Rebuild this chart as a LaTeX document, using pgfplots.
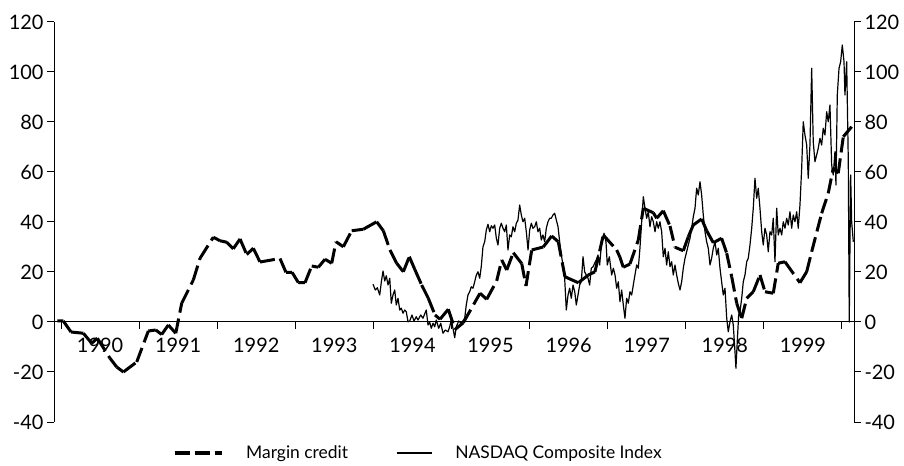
\documentclass[border=0pt]{standalone}
\usepackage{pgfplots}
\pgfplotsset{compat=1.18}
\usepackage{pgfplotstable}
\usepackage{fontspec}
\setmainfont{Lato}

\pgfplotstableread{
x y xn yn
1989.953 0.5 1990.029 0.4
1990.029 0.4 1990.128 -4
1990.128 -4 1990.286 -4.5
1990.286 -4.5 1990.393 -8.5
1990.393 -8.5 1990.465 -6.5
1990.465 -6.5 1990.627 -14.5
1990.627 -14.5 1990.713 -18
1990.713 -18 1990.798 -20
1990.798 -20 1990.969 -16
1990.969 -16 1991.118 -3.6
1991.118 -3.6 1991.213 -3.2
1991.213 -3.2 1991.289 -5
1991.289 -5 1991.374 -1.2
1991.374 -1.2 1991.469 -4.5
1991.469 -4.5 1991.545 7.5
1991.545 7.5 1991.694 16.8
1991.694 16.8 1991.780 25.5
1991.780 25.5 1991.950 33.9
1991.950 33.9 1992.036 32.5
1992.036 32.5 1992.122 31.9
1992.122 31.9 1992.206 29.3
1992.206 29.3 1992.292 33.2
1992.292 33.2 1992.378 27
1992.378 27 1992.462 29.5
1992.462 29.5 1992.548 24
1992.548 24 1992.804 25.4
1992.804 25.4 1992.881 19.8
1992.881 19.8 1992.958 19.9
1992.958 19.9 1993.038 15.8
1993.038 15.8 1993.124 15.7
1993.124 15.7 1993.210 22.4
1993.210 22.4 1993.295 21.9
1993.295 21.9 1993.380 25.1
1993.380 25.1 1993.466 23.5
1993.466 23.5 1993.521 32.1
1993.521 32.1 1993.615 30.1
1993.615 30.1 1993.722 36.5
1993.722 36.5 1993.871 37.1
1993.871 37.1 1994.042 40.1
1994.042 40.1 1994.127 36.5
1994.127 36.5 1994.212 28.8
1994.212 28.8 1994.298 23.5
1994.298 23.5 1994.383 20.1
1994.383 20.1 1994.460 26.1
1994.460 26.1 1994.533 20.8
1994.533 20.8 1994.618 14.8
1994.618 14.8 1994.703 9.5
1994.703 9.5 1994.789 2.8
1994.789 2.8 1994.853 1.1
1994.853 1.1 1994.959 5.1
1994.959 5.1 1995.045 -3
1995.045 -3 1995.151 -0.3
1995.151 -0.3 1995.365 11.5
1995.365 11.5 1995.451 9.1
1995.451 9.1 1995.579 16.5
1995.579 16.5 1995.643 24.8
1995.643 24.8 1995.707 20.8
1995.707 20.8 1995.791 27.7
1995.791 27.7 1995.899 23.4
1995.899 23.4 1995.954 14.4
1995.954 14.4 1996.027 28.8
1996.027 28.8 1996.175 30
1996.175 30 1996.283 34.4
1996.283 34.4 1996.367 32.1
1996.367 32.1 1996.453 18.1
1996.453 18.1 1996.624 15.7
1996.624 15.7 1996.752 18.8
1996.752 18.8 1996.837 20.1
1996.837 20.1 1996.944 34.8
1996.944 34.8 1997.115 28.8
1997.115 28.8 1997.157 25.9
1997.157 25.9 1997.200 21.9
1997.200 21.9 1997.285 23.2
1997.285 23.2 1997.392 32.8
1997.392 32.8 1997.456 45.5
1997.456 45.5 1997.584 43.7
1997.584 43.7 1997.627 41.5
1997.627 41.5 1997.712 44.5
1997.712 44.5 1997.798 38.4
1997.798 38.4 1997.862 29.9
1997.862 29.9 1997.968 28.5
1997.968 28.5 1998.032 34.1
1998.032 34.1 1998.096 38.8
1998.096 38.8 1998.203 41.2
1998.203 41.2 1998.268 36.5
1998.268 36.5 1998.352 31.7
1998.352 31.7 1998.459 33.5
1998.459 33.5 1998.524 27.5
1998.524 27.5 1998.588 18.1
1998.588 18.1 1998.652 7.5
1998.652 7.5 1998.716 1.5
1998.716 1.5 1998.780 9.5
1998.780 9.5 1998.864 12.1
1998.864 12.1 1998.950 18.8
1998.950 18.8 1999.014 12.1
1999.014 12.1 1999.120 11.5
1999.120 11.5 1999.184 23.5
1999.184 23.5 1999.270 24.1
1999.270 24.1 1999.462 15.7
1999.462 15.7 1999.548 20.1
1999.548 20.1 1999.612 28.1
1999.612 28.1 1999.740 43.5
1999.740 43.5 1999.824 51.5
1999.824 51.5 1999.888 61.5
1999.888 61.5 1999.952 59.5
1999.952 59.5 2000.017 74.1
2000.017 74.1 2000.124 78.1
}\margin

\pgfplotstableread{
x y
1993.995 15.1
1994.024 12.8
1994.050 13.7
1994.081 10.8
1994.101 15.9
1994.123 20.4
1994.145 16.4
1994.165 18.5
1994.187 14.8
1994.209 17.5
1994.229 7.5
1994.251 10.8
1994.273 12.8
1994.293 6.8
1994.315 9.5
1994.337 4.8
1994.357 5.5
1994.379 3.5
1994.401 4.8
1994.421 4.1
1994.443 0.1
1994.465 0.4
1994.494 2.8
1994.520 0.4
1994.549 2.1
1994.571 0.8
1994.606 2.8
1994.635 1.5
1994.677 4.8
1994.699 -1.2
1994.721 -0.1
1994.741 -2.5
1994.763 -0.5
1994.785 -1.9
1994.805 0.8
1994.836 -2.5
1994.862 -0.5
1994.891 -4.5
1994.921 -3.2
1994.955 -3.9
1994.977 -1.9
1994.997 0.8
1995.019 -2.5
1995.041 -6.3
1995.061 -1.9
1995.092 0.4
1995.125 -0.5
1995.169 1.5
1995.189 6.8
1995.211 10.8
1995.233 12.1
1995.253 14.1
1995.275 13.5
1995.297 16.1
1995.318 18.8
1995.339 20.1
1995.361 17.5
1995.381 22.1
1995.403 30.1
1995.425 32.1
1995.446 36.8
1995.467 39.1
1995.489 36.1
1995.510 38.5
1995.531 37.5
1995.553 38.8
1995.574 33.5
1995.595 30.8
1995.617 37.5
1995.638 39.5
1995.659 37.5
1995.681 36.1
1995.702 38.8
1995.723 28.8
1995.745 34.8
1995.766 34.1
1995.787 38.1
1995.809 36.1
1995.830 39.5
1995.851 40.8
1995.873 46.8
1995.894 42.8
1995.915 40.1
1995.937 41.5
1995.958 36.1
1995.980 28.8
1996.001 36.8
1996.022 39.5
1996.043 37.5
1996.065 38.1
1996.086 40.1
1996.107 36.1
1996.129 37.5
1996.150 32.8
1996.171 34.8
1996.193 32.1
1996.214 37.5
1996.235 40.1
1996.257 41.5
1996.278 41.5
1996.299 42.8
1996.321 43.5
1996.342 40.8
1996.364 38.1
1996.385 32.1
1996.406 26.8
1996.428 22.8
1996.449 17.5
1996.470 4.8
1996.492 10.8
1996.513 13.5
1996.534 9.5
1996.556 14.8
1996.578 12.1
1996.598 6.8
1996.620 10.8
1996.641 14.8
1996.662 16.1
1996.684 26.1
1996.705 20.1
1996.726 18.8
1996.748 17.5
1996.769 14.8
1996.790 21.5
1996.812 22.1
1996.833 23.5
1996.854 24.8
1996.876 26.8
1996.897 22.8
1996.923 32.1
1996.953 35.5
1996.978 32.1
1996.995 22.8
1997.021 26.1
1997.051 18.8
1997.072 21.5
1997.094 18.8
1997.115 13.5
1997.136 16.1
1997.157 8.1
1997.179 12.8
1997.200 6.8
1997.221 1.5
1997.243 9.5
1997.264 7.5
1997.285 12.1
1997.307 10.8
1997.328 14.8
1997.349 18.8
1997.371 22.8
1997.392 21.5
1997.413 29.5
1997.435 40.1
1997.456 50.1
1997.478 45.5
1997.499 41.5
1997.520 44.1
1997.541 38.1
1997.563 42.1
1997.584 40.1
1997.606 36.1
1997.627 40.1
1997.648 37.5
1997.669 40.1
1997.691 36.1
1997.712 26.1
1997.734 29.5
1997.755 22.8
1997.776 28.1
1997.798 22.1
1997.819 24.1
1997.840 18.8
1997.862 22.8
1997.883 18.8
1997.904 15.5
1997.926 12.8
1997.947 16.1
1997.968 21.5
1997.990 25.5
1998.011 28.1
1998.032 30.8
1998.054 33.5
1998.075 37.5
1998.096 42.1
1998.118 45.5
1998.139 53.5
1998.160 50.8
1998.182 56.1
1998.203 50.8
1998.224 42.8
1998.246 36.1
1998.267 32.1
1998.288 29.5
1998.310 22.8
1998.331 25.5
1998.352 29.5
1998.374 32.1
1998.396 26.8
1998.416 29.5
1998.438 21.5
1998.459 16.1
1998.480 10.8
1998.502 13.5
1998.524 1.5
1998.544 -3.9
1998.566 0.1
1998.588 2.8
1998.608 -1.2
1998.630 -11.9
1998.642 -18.5
1998.659 -7.9
1998.677 2.8
1998.694 4.1
1998.716 9.5
1998.736 16.1
1998.758 18.8
1998.780 24.1
1998.800 25.5
1998.822 30.8
1998.844 37.5
1998.864 45.5
1998.886 57.5
1998.908 49.5
1998.928 53.5
1998.950 45.5
1998.972 36.1
1998.992 30.8
1999.014 37.5
1999.036 34.8
1999.056 28.1
1999.078 36.1
1999.100 34.8
1999.120 41.5
1999.142 24.1
1999.164 45.5
1999.184 34.8
1999.206 37.5
1999.228 34.8
1999.248 40.1
1999.270 37.5
1999.292 41.5
1999.312 38.8
1999.334 44.1
1999.356 37.5
1999.376 42.8
1999.398 40.1
1999.420 44.1
1999.440 37.5
1999.462 46.8
1999.484 61.5
1999.504 80.1
1999.526 74.8
1999.548 70.8
1999.568 57.5
1999.590 70.8
1999.612 101.5
1999.632 72.1
1999.654 64.1
1999.676 66.8
1999.696 69.5
1999.718 73.5
1999.740 70.8
1999.760 77.5
1999.782 74.8
1999.804 84.1
1999.824 80.1
1999.846 86.8
1999.868 62.8
1999.888 58.8
1999.910 68.1
1999.923 54.8
1999.940 90.8
1999.962 101.5
1999.983 104.1
2000.004 110.8
2000.026 104.1
2000.038 90.8
2000.060 104.1
2000.081 64.1
2000.093 0
2000.111 58.8
2000.124 40.1
2000.145 32.1
}\nasdaq

\begin{document}
\begin{tikzpicture}
\useasboundingbox (0,0) rectangle (904bp,466bp);
\pgfplotsset{
  common/.style={
    at={(54bp,44bp)}, anchor=south west,
    scale only axis, width=800bp, height=400bp,
    xmin=1989.91, xmax=2000.154, ymin=-40, ymax=120,
    ytick={-40,-20,0,20,40,60,80,100,120},
    yticklabels={-40,-20,0,20,40,60,80,100,120},
    tick align=outside,
    major tick length=7bp, minor tick length=7bp,
    every tick/.style={line width=1bp, black},
    axis line style={line width=1bp, black},
    tick label style={font=\fontsize{20}{24}\selectfont},
  }
}
\begin{axis}[common,
  axis y line*=left, axis x line*=middle,
  xtick={1990.5,1991.5,1992.5,1993.5,1994.5,1995.5,1996.5,1997.5,1998.5,1999.5},
  xticklabels={1990,1991,1992,1993,1994,1995,1996,1997,1998,1999},
  xticklabel style={yshift=-6bp},
  minor xtick={1990,1991,1992,1993,1994,1995,1996,1997,1998,1999,2000},
  major x tick style={draw=none},
  legend columns=2,
  legend style={at={(axis description cs:0.149,-0.0775)}, anchor=west,
    draw=none, fill=none, inner sep=0pt, outer sep=0pt,
    font=\fontsize{17.5}{21}\selectfont,
    nodes={inner sep=0pt},
    /tikz/every odd column/.append style={column sep=23bp},
    /tikz/every even column/.append style={column sep=48bp}},
]
\addplot[black, line width=3bp, dash pattern=on 15bp off 6bp,
  quiver={u=\thisrow{xn}-\thisrow{x}, v=\thisrow{yn}-\thisrow{y},
    every arrow/.append style={line width=3bp, dash pattern=on 15bp off 6bp}},
  legend image code/.code={
    \draw[line width=3bp, dash pattern=on 15bp off 5bp] (0bp,0bp) -- (47bp,0bp);}]
  table[x=x, y=y] {\margin};
\addlegendentry{Margin credit}
\addplot[black, line width=1.2bp, line join=round,
  legend image code/.code={
    \draw[line width=1.2bp] (0bp,0bp) -- (35bp,0bp);}]
  table[x=x, y=y] {\nasdaq};
\addlegendentry{NASDAQ Composite Index}
\end{axis}
\begin{axis}[common,
  axis x line=none, axis y line*=right,
]
\end{axis}
\end{tikzpicture}
\end{document}
